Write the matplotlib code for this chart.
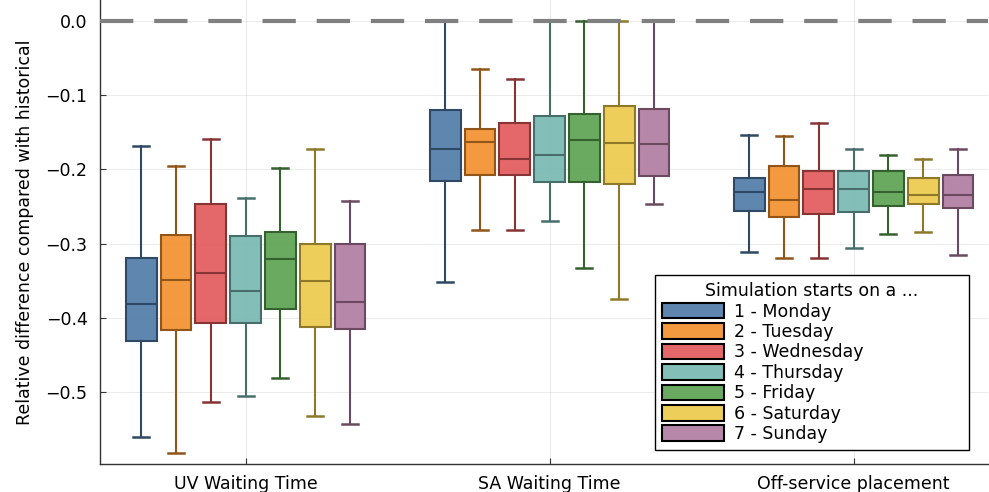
import matplotlib
matplotlib.use("Agg")
import matplotlib.pyplot as plt
import matplotlib.colors as mcolors
from matplotlib.patches import Patch

groups = ["UV Waiting Time", "SA Waiting Time", "Off-service placement"]
days = ["1 - Monday", "2 - Tuesday", "3 - Wednesday", "4 - Thursday",
        "5 - Friday", "6 - Saturday", "7 - Sunday"]
colors = ["#4E79A7", "#F28E2B", "#E15759", "#76B7B2", "#59A14F", "#EDC948", "#B07AA1"]

# per group, per day: whisker low, Q1, median, Q3, whisker high
uv_lo = [-0.560, -0.582, -0.514, -0.505, -0.481, -0.532, -0.543]
uv_q1 = [-0.431, -0.416, -0.407, -0.407, -0.388, -0.412, -0.415]
uv_med = [-0.381, -0.349, -0.339, -0.364, -0.321, -0.351, -0.379]
uv_q3 = [-0.319, -0.288, -0.246, -0.290, -0.285, -0.301, -0.300]
uv_hi = [-0.168, -0.196, -0.159, -0.238, -0.198, -0.172, -0.243]

sa_lo = [-0.352, -0.282, -0.281, -0.270, -0.333, -0.375, -0.246]
sa_q1 = [-0.216, -0.207, -0.207, -0.217, -0.217, -0.219, -0.209]
sa_med = [-0.172, -0.163, -0.186, -0.181, -0.160, -0.165, -0.166]
sa_q3 = [-0.120, -0.145, -0.138, -0.128, -0.125, -0.115, -0.118]
sa_hi = [0.0, -0.065, -0.078, 0.0, 0.0, 0.0, 0.0]

os_lo = [-0.311, -0.319, -0.319, -0.306, -0.287, -0.285, -0.315]
os_q1 = [-0.256, -0.264, -0.260, -0.257, -0.249, -0.247, -0.252]
os_med = [-0.230, -0.241, -0.227, -0.226, -0.231, -0.234, -0.234]
os_q3 = [-0.211, -0.196, -0.202, -0.202, -0.202, -0.211, -0.207]
os_hi = [-0.154, -0.155, -0.138, -0.172, -0.181, -0.186, -0.172]

data = [
    (uv_lo, uv_q1, uv_med, uv_q3, uv_hi),
    (sa_lo, sa_q1, sa_med, sa_q3, sa_hi),
    (os_lo, os_q1, os_med, os_q3, os_hi),
]

plt.rcParams["font.family"] = "DejaVu Sans"
fig = plt.figure(figsize=(9.89, 4.92), dpi=100)
ax = fig.add_axes([100 / 989, 28 / 492, 888 / 989, 464 / 492])

step = 0.1145
box_w = 0.101
fs = 12.5


def darker(c, f=0.6):
    r, g, b = mcolors.to_rgb(c)
    return (r * f, g * f, b * f)


for gi, (lo, q1, med, q3, hi) in enumerate(data):
    for di in range(len(days)):
        pos = gi + 1 + (di - 3) * step
        stats = [{"whislo": lo[di], "q1": q1[di], "med": med[di],
                  "q3": q3[di], "whishi": hi[di], "fliers": []}]
        dk = darker(colors[di])
        ax.bxp(stats, positions=[pos], widths=box_w, capwidths=box_w * 0.52,
               patch_artist=True, showfliers=False, manage_ticks=False,
               boxprops=dict(facecolor=mcolors.to_rgba(colors[di], 0.9),
                             edgecolor=dk, linewidth=1.5),
               medianprops=dict(color=dk, linewidth=1.5),
               whiskerprops=dict(color=dk, linewidth=1.5),
               capprops=dict(color=dk, linewidth=1.8),
               zorder=3)

ax.axhline(0.0, color="gray", linewidth=3, dashes=(8, 5), zorder=4)

ax.set_xlim(0.521, 3.442)
ax.set_ylim(-0.597, 0.0283)
ax.set_xticks([1, 2, 3])
ax.set_xticklabels(groups, fontsize=fs)
ax.set_yticks([0.0, -0.1, -0.2, -0.3, -0.4, -0.5])
ax.set_yticklabels(["0.0", "\u22120.1", "\u22120.2", "\u22120.3", "\u22120.4", "\u22120.5"],
                   fontsize=fs)
ax.tick_params(axis="both", direction="in", length=4, color="#333333")
ax.tick_params(axis="y", pad=9)
ax.tick_params(axis="x", pad=8)
ax.set_ylabel("Relative difference compared with historical", fontsize=fs, labelpad=8)

ax.grid(True, color="gray", alpha=0.15, linewidth=0.8, zorder=0)
ax.set_axisbelow(True)
for s in ["top", "right"]:
    ax.spines[s].set_visible(False)
for s in ["left", "bottom"]:
    ax.spines[s].set_color("#333333")
    ax.spines[s].set_linewidth(1.0)

handles = [Patch(facecolor=mcolors.to_rgba(c, 0.9), edgecolor="black", linewidth=1.5)
           for c in colors]
leg = ax.legend(handles, days, title="Simulation starts on a ...",
                loc="lower left", bbox_to_anchor=(0.625, 0.030, 0.3536, 0.3),
                mode="expand", borderaxespad=0, fontsize=fs, title_fontsize=fs,
                fancybox=False, framealpha=1, edgecolor="black",
                handlelength=3.6, handleheight=1.0, labelspacing=0.14,
                handletextpad=0.55, borderpad=0.4)
leg.get_frame().set_linewidth(1.0)
leg.set_zorder(10)

fig.savefig("out.png", dpi=100)
